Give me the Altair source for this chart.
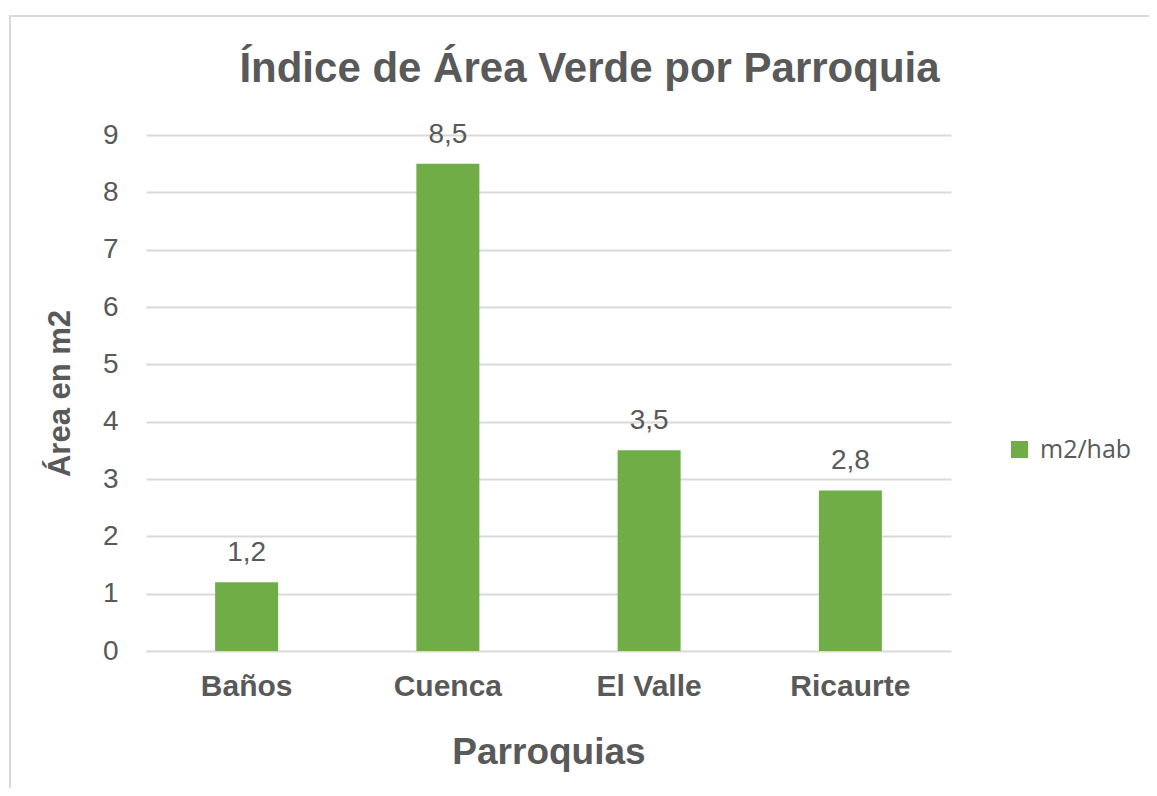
import altair as alt
import pandas as pd

parroquias = ["Baños", "Cuenca", "El Valle", "Ricaurte"]
valores = [1.2, 8.5, 3.5, 2.8]
serie = "m2/hab"

df = pd.DataFrame({"Parroquia": parroquias, "Valor": valores, "Serie": [serie] * len(parroquias)})

TXT = "#595959"
GRID = "#d9d9d9"
GREEN = "#70AD47"
FONT = "Liberation Sans"

W, H = 805, 516

base = alt.Chart(df).encode(
    x=alt.X(
        "Parroquia:N",
        sort=parroquias,
        scale=alt.Scale(paddingInner=0, paddingOuter=0),
        axis=alt.Axis(
            title="Parroquias",
            titleFont=FONT, titleFontSize=37, titleFontWeight="bold", titleColor=TXT,
            titleY=101, titleBaseline="middle",
            labelFont=FONT, labelFontSize=30, labelFontWeight="bold", labelColor=TXT,
            labelAngle=0, labelPadding=20, ticks=False, domain=False, grid=False,
        ),
    ),
)

bars = base.mark_bar(size=63, color=GREEN).encode(
    y=alt.Y(
        "Valor:Q",
        scale=alt.Scale(domain=[0, 9], nice=False),
        axis=alt.Axis(
            title="Área en m2",
            values=list(range(0, 10)),
            format="d",
            titleFont=FONT, titleFontSize=31, titleFontWeight="bold", titleColor=TXT,
            titleX=-86, titleAngle=-90, titleBaseline="middle", titleAlign="center",
            labelFont=FONT, labelFontSize=28, labelColor=TXT, labelPadding=28,
            ticks=False, domain=False, grid=True, gridColor=GRID, gridWidth=2,
        ),
    ),
    color=alt.Color(
        "Serie:N",
        scale=alt.Scale(domain=[serie], range=[GREEN]),
        legend=alt.Legend(
            title=None, orient="none", legendX=861, legendY=302,
            symbolType="square", symbolSize=289, symbolStrokeWidth=0,
            labelFont="Open Sans", labelFontSize=25, labelColor=TXT,
            labelOffset=8, padding=0,
        ),
    ),
)

labels = base.mark_text(
    font=FONT, fontSize=28, color=TXT, baseline="alphabetic", dy=-21
).transform_calculate(
    etiqueta="replace(format(datum.Valor, '.1f'), '.', ',')"
).encode(
    y="Valor:Q",
    text="etiqueta:N",
)

frame = alt.Chart(df).mark_rect(
    fill=None, stroke=GRID, strokeWidth=2, clip=False
).encode(
    x=alt.value(-136), x2=alt.value(1100),
    y=alt.value(-119), y2=alt.value(700),
)

chart = alt.layer(frame, bars, labels).properties(
    width=W, height=H,
    title=alt.TitleParams(
        "Índice de Área Verde por Parroquia",
        font=FONT, fontSize=42, fontWeight="bold", color=TXT,
        anchor="middle", dx=41, baseline="alphabetic", offset=-109,
    ),
    autosize=alt.AutoSizeParams(type="none"),
    padding={"left": 138, "top": 127, "right": 198, "bottom": 137},
).configure(background="white").configure_view(stroke=None)

chart.save("out.html", embed_options={"renderer": "svg", "actions": False})
